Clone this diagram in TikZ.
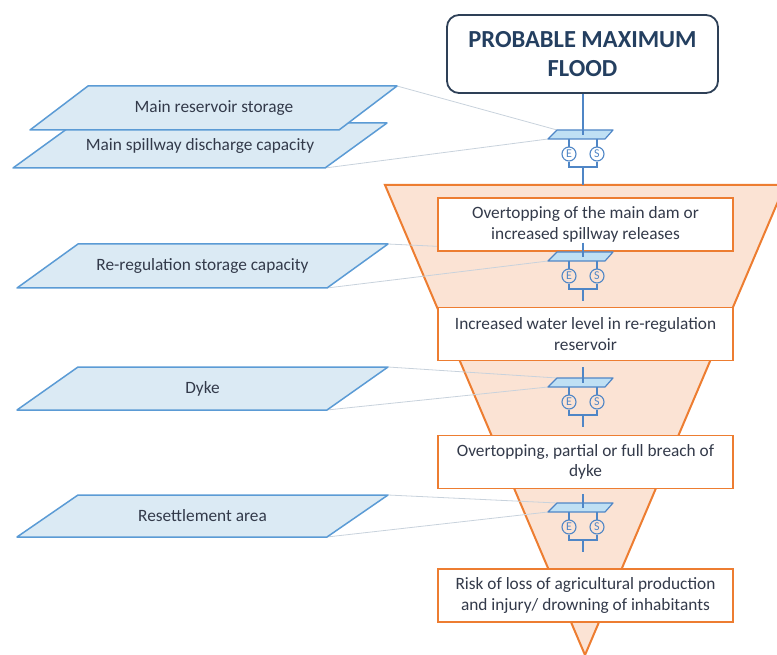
\documentclass[tikz,border=0pt]{standalone}
\usepackage{fontspec}
\setmainfont{Carlito}
\definecolor{orng}{HTML}{ED7D31}
\definecolor{peach}{HTML}{FBE3D4}
\definecolor{pblue}{HTML}{DBEAF4}
\definecolor{bblue}{HTML}{5B9BD5}
\definecolor{gfill}{HTML}{BFE0F4}
\definecolor{gline}{HTML}{4F86C6}
\definecolor{faint}{HTML}{C8D2DC}
\definecolor{titlec}{HTML}{243F60}
\definecolor{titleb}{HTML}{2E4057}
\definecolor{txt}{HTML}{333A4A}
\tikzset{
  evbox/.style={draw=orng, line width=1.5pt, fill=white, minimum width=295pt,
    minimum height=53pt, align=center, inner sep=0pt,
    font=\fontsize{17.3}{20.5}\selectfont, text=txt},
  ptext/.style={font=\fontsize{17.3}{20.5}\selectfont, text=txt},
  pshape/.style={draw=bblue, fill=pblue, line width=1.5pt, line join=round},
  gateline/.style={draw=gline, line width=1.1pt},
  faintline/.style={draw=faint, line width=0.8pt},
  gatecirc/.style={circle, draw=gline, line width=1.1pt, minimum size=14pt,
    inner sep=0pt, font=\fontsize{12}{12}\selectfont, text=gline},
  gate/.pic={
    \filldraw[gateline, fill=gfill, line width=1.2pt, line join=round]
      (-26,0) -- (30,0) -- (22,9) -- (-35,9) -- cycle;
    \coordinate (-tl) at (-26,0);
    \coordinate (-bl) at (-35,9);
    \coordinate (-in) at (0,5);
    \coordinate (-out) at (0,49);
    \draw[gateline] (-14,9) -- (-14,17) (14,9) -- (14,17);
    \node[gatecirc] (-e) at (-14,24) {E};
    \node[gatecirc] (-s) at (14,24) {S};
    \draw[gateline] (-e.south) -- (-14,37) -- (14,37) -- (-s.south);
    \draw[gateline] (0,37) -- (-out);
  }
}
\begin{document}
\begin{tikzpicture}[x=1pt,y=-1pt]
\useasboundingbox (0,0) rectangle (777,655);
% funnel
\begin{scope}
  \clip (0,0) rectangle (777,655);
  \filldraw[draw=orng, fill=peach, line width=2pt, line join=miter]
    (385,185) -- (785,185) -- (585,655) -- cycle;
\end{scope}
\coordinate (ftop) at (583,185);
% left parallelogram corners
\coordinate (p1tr) at (397,86);  \coordinate (p2br) at (325,168);
\coordinate (p3tr) at (388,244); \coordinate (p3br) at (327,288);
\coordinate (p4tr) at (388,367); \coordinate (p4br) at (327,410);
\coordinate (p5tr) at (388,495); \coordinate (p5br) at (327,537);
% gate positions
\path (583,130) coordinate (g1pos) (583,252) coordinate (g2pos)
      (583,378) coordinate (g3pos) (583,503) coordinate (g4pos);
\coordinate (g1tl) at (557,130); \coordinate (g1bl) at (548,139);
\coordinate (g2tl) at (557,252); \coordinate (g2bl) at (548,261);
\coordinate (g3tl) at (557,378); \coordinate (g3bl) at (548,387);
\coordinate (g4tl) at (557,503); \coordinate (g4bl) at (548,512);
% faint lines
\draw[faintline] (p1tr) -- (g1tl);
\draw[faintline] (p2br) -- (g1bl);
\draw[faintline] (p3tr) -- (g2tl);
\draw[faintline] (p3br) -- (g2bl);
\draw[faintline] (p4tr) -- (g3tl);
\draw[faintline] (p4br) -- (g3bl);
\draw[faintline] (p5tr) -- (g4tl);
\draw[faintline] (p5br) -- (g4bl);
% event boxes
\node[evbox] (b1) at (585.5,224.5) {Overtopping of the main dam or\\increased spillway releases};
\node[evbox] (b2) at (585.5,334) {Increased water level in re-regulation\\reservoir};
\node[evbox] (b3) at (585.5,462) {Overtopping, partial or full breach of\\dyke};
\node[evbox] (b4) at (585.5,595.5) {Risk of loss of agricultural production\\and injury/ drowning of inhabitants};
% title
\node[draw=titleb, rounded corners=12pt, line width=1.8pt, minimum width=271pt,
  minimum height=78pt, align=center, inner sep=0pt,
  font=\bfseries\fontsize{24.5}{29.5}\selectfont, text=titlec] (pmf) at (582.5,54)
  {PROBABLE MAXIMUM\\FLOOD};
% gates
\pic (g1) at (g1pos) {gate};
\pic (g2) at (g2pos) {gate};
\pic (g3) at (g3pos) {gate};
\pic (g4) at (g4pos) {gate};
\draw[gateline] (pmf.south -| g1-in) -- (g1-in);
\draw[gateline] ([yshift=9pt]b1.south -| g2-in) -- (g2-in);
\draw[gateline] ([yshift=-6pt]b2.south -| g3-in) -- (g3-in);
\draw[gateline] ([yshift=-5pt]b3.south -| g4-in) -- (g4-in);
\draw[gateline] (g1-out) -- (ftop);
% left parallelograms
\filldraw[pshape] (75,123) -- (387,123) -- (p2br) -- (13,168) -- cycle;
\filldraw[pshape] (88,86) -- (p1tr) -- (339,130) -- (30,130) -- cycle;
\filldraw[pshape] (78,244) -- (p3tr) -- (p3br) -- (17,288) -- cycle;
\filldraw[pshape] (78,367) -- (p4tr) -- (p4br) -- (17,410) -- cycle;
\filldraw[pshape] (78,495) -- (p5tr) -- (p5br) -- (17,537) -- cycle;
\node[ptext] (t1) at (214,108) {Main reservoir storage};
\node[ptext] (t2) at (200,145.5) {Main spillway discharge capacity};
\node[ptext] (t3) at (202.5,266) {Re-regulation storage capacity};
\node[ptext] (t4) at (202.5,388.5) {Dyke};
\node[ptext] (t5) at (202.5,516) {Resettlement area};
\end{tikzpicture}
\end{document}
